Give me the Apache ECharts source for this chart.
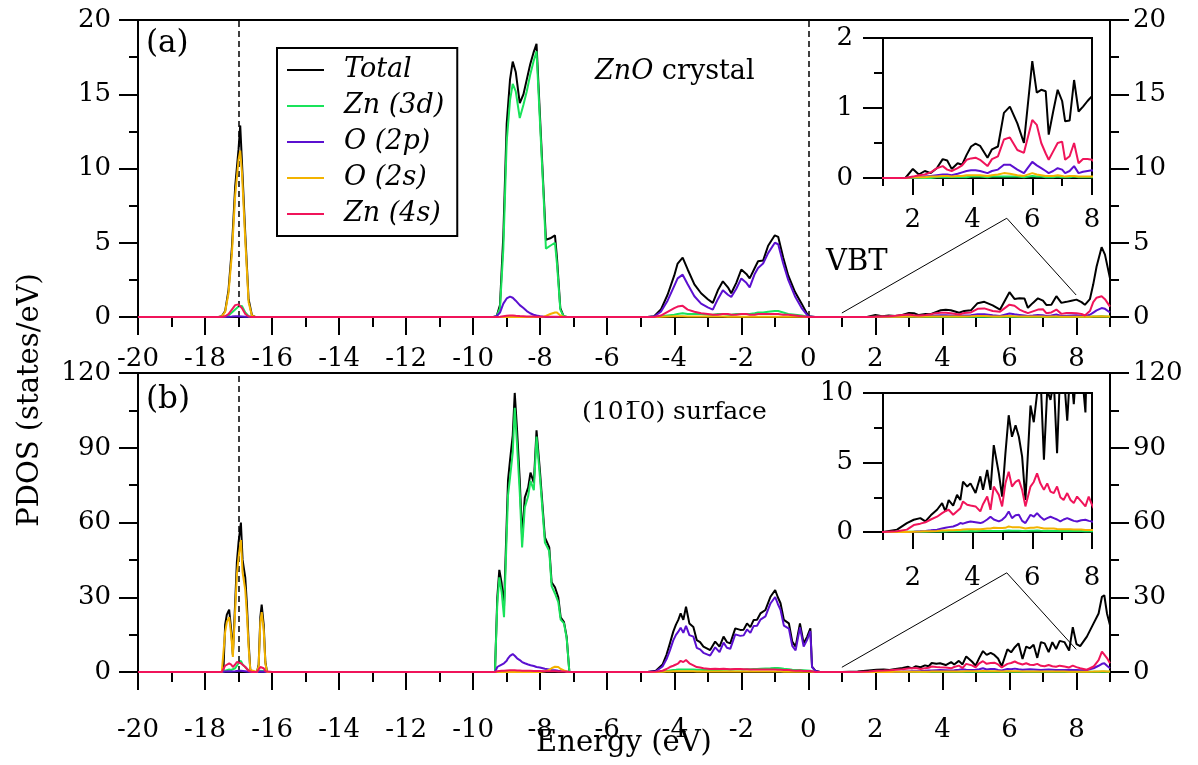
<!DOCTYPE html>
<html><head><meta charset="utf-8">
<script src="https://cdn.jsdelivr.net/npm/echarts@6/dist/echarts.min.js"></script>
<style>html,body{margin:0;padding:0;background:#fff}#main{width:1198px;height:765px}</style>
</head><body><div id="main"></div>
<script>
// ---------- ticks ----------
const xMajorTicks = [-20,-18,-16,-14,-12,-10,-8,-6,-4,-2,0,2,4,6,8];
const xMinorTicks = [-19,-17,-15,-13,-11,-9,-7,-5,-3,-1,1,3,5,7,9];
const insetMajorTicks = [2,4,6,8];
const insetMinorTicks = [1,3,5,7];
const seriesNames = ['Total','Zn (3d)','O (2p)','O (2s)','Zn (4s)'];
const dashA = [-17, 0];
const dashB = [-17];
const zoomLineA = [[1.0,0.27],[5.92,6.65],[7.99,1.48]];
const zoomLineB = [[1.0,1.9],[5.92,39.8],[7.99,9.1]];

// ---------- panel (a): ZnO crystal ----------
const eA1 = [-17.6,-17.5,-17.4,-17.3,-17.2,-17.1,-17.0,-16.95,-16.9,-16.8,-16.7,-16.6,-16.5];
const totA1 = [0,0.05,0.4,1.8,4.6,8.8,11.3,12.9,10.5,5.6,1.2,0.1,0];
const zndA1 = [0,0,0.02,0.1,0.3,0.5,0.7,0.8,0.75,0.3,0.05,0,0];
const opA1  = [0,0,0.01,0.02,0.03,0.05,0.05,0.05,0.04,0.02,0.01,0,0];
const osA1  = [0,0.04,0.35,1.6,4.2,8.2,10.6,11.2,9.8,5.2,1.0,0.08,0];
const znsA1 = [0,0,0.05,0.2,0.5,0.8,0.85,0.75,0.6,0.2,0.03,0,0];

const eA2 = [-9.4,-9.3,-9.2,-9.1,-9.0,-8.9,-8.82,-8.73,-8.61,-8.5,-8.4,-8.3,-8.2,-8.11,-8.0,-7.9,-7.83,-7.7,-7.56,-7.5,-7.4,-7.3,-7.2,-7.1];
const totA2 = [0,0.05,0.8,5.5,13.0,16.0,17.2,16.5,14.4,15.0,16.0,17.0,17.8,18.4,13.2,8.5,5.2,5.3,5.5,4.0,0.6,0.05,0,0];
const zndA2 = [0,0.04,0.6,4.6,11.8,14.6,15.7,15.2,13.4,14.3,15.2,16.3,17.2,17.9,12.8,8.2,4.6,4.8,5.0,3.6,0.5,0.04,0,0];
const opA2  = [0,0.05,0.3,0.9,1.25,1.37,1.3,1.1,0.8,0.6,0.4,0.25,0.15,0.1,0.05,0.02,0,0,0,0,0,0,0,0];
const osA2  = [0,0,0,0,0,0,0,0,0,0,0,0,0,0,0,0.02,0.08,0.2,0.3,0.3,0.1,0.01,0,0];
const znsA2 = [0,0,0.02,0.05,0.08,0.1,0.1,0.08,0.06,0.05,0.04,0.03,0.03,0.02,0.02,0.01,0.01,0.01,0.01,0.01,0,0,0,0];

const eA3 = [-4.8,-4.6,-4.4,-4.2,-4.0,-3.9,-3.75,-3.6,-3.4,-3.2,-3.0,-2.85,-2.7,-2.55,-2.4,-2.3,-2.15,-2.0,-1.85,-1.75,-1.6,-1.5,-1.35,-1.2,-1.0,-0.9,-0.75,-0.6,-0.4,-0.2,0.0,0.2];
const totA3 = [0,0.05,0.5,1.5,2.8,3.6,4.0,3.2,2.2,1.6,1.2,0.95,1.8,2.4,2.0,1.6,2.3,3.2,2.9,2.6,3.3,3.75,3.8,4.8,5.5,5.4,4.0,2.8,1.7,0.9,0.05,0];
const zndA3 = [0,0,0.05,0.1,0.15,0.2,0.25,0.2,0.2,0.2,0.15,0.15,0.2,0.2,0.15,0.15,0.2,0.2,0.2,0.2,0.25,0.3,0.3,0.35,0.4,0.4,0.3,0.2,0.15,0.1,0.02,0];
const opA3  = [0,0.03,0.35,1.1,2.1,2.6,2.85,2.2,1.4,0.9,0.65,0.5,1.2,1.8,1.5,1.35,1.9,2.6,2.3,2.0,2.9,3.3,3.6,4.3,5.0,4.9,3.6,2.5,1.4,0.6,0.03,0];
const osA3  = [0,0,0.02,0.04,0.05,0.05,0.05,0.04,0.04,0.03,0.03,0.03,0.03,0.03,0.02,0.02,0.02,0.02,0.02,0.02,0.02,0.02,0.02,0.02,0.02,0.02,0.02,0.01,0.01,0.01,0,0];
const znsA3 = [0,0,0.1,0.35,0.6,0.7,0.75,0.5,0.35,0.25,0.2,0.15,0.15,0.2,0.2,0.15,0.15,0.2,0.2,0.15,0.15,0.2,0.2,0.2,0.2,0.2,0.15,0.15,0.1,0.05,0,0];

const eA4 = [0.3,1.0,1.75,2.0,2.2,2.4,2.6,2.8,3.0,3.15,3.3,3.5,3.65,3.8,3.95,4.1,4.25,4.5,4.65,4.85,5.05,5.25,5.5,5.72,6.0,6.15,6.3,6.45,6.55,6.7,6.85,7.0,7.1,7.25,7.4,7.55,7.7,7.85,8.0,8.15,8.25,8.4,8.5,8.6,8.75,8.85,9.0];
const totA4 = [0,0,0,0.13,0.05,0.1,0.07,0.14,0.27,0.25,0.13,0.21,0.19,0.33,0.45,0.49,0.46,0.29,0.41,0.45,0.93,1.02,0.78,0.5,1.67,1.22,1.26,1.24,0.62,0.95,1.26,1.1,0.81,0.82,1.4,0.95,1.02,1.1,1.17,1.0,0.82,1.2,2.2,3.4,4.7,4.2,2.6];
const zndA4 = [0,0,0,0,0,0,0,0.01,0.01,0.01,0.01,0.01,0.01,0.01,0.02,0.02,0.02,0.01,0.02,0.02,0.02,0.02,0.02,0.01,0.03,0.02,0.02,0.01,0.01,0.01,0.02,0.01,0.01,0.01,0.02,0.01,0.01,0.01,0.01,0.01,0.01,0.02,0.03,0.04,0.05,0.04,0.02];
const opA4  = [0,0,0,0.01,0.01,0.02,0.03,0.04,0.05,0.05,0.04,0.06,0.08,0.1,0.11,0.11,0.1,0.07,0.1,0.12,0.19,0.19,0.12,0.07,0.23,0.18,0.14,0.1,0.07,0.1,0.14,0.12,0.07,0.1,0.17,0.07,0.09,0.1,0.11,0.08,0.05,0.15,0.3,0.45,0.6,0.55,0.3];
const osA4  = [0,0,0,0.01,0.01,0.01,0.02,0.02,0.03,0.03,0.02,0.03,0.03,0.04,0.04,0.04,0.04,0.03,0.04,0.05,0.07,0.06,0.04,0.03,0.07,0.05,0.04,0.03,0.03,0.03,0.04,0.03,0.02,0.03,0.03,0.02,0.02,0.02,0.02,0.02,0.01,0.02,0.03,0.04,0.05,0.04,0.03];
const znsA4 = [0,0,0,0.02,0.04,0.05,0.08,0.14,0.17,0.12,0.1,0.14,0.18,0.26,0.28,0.29,0.26,0.17,0.27,0.31,0.55,0.58,0.4,0.36,0.83,0.76,0.5,0.35,0.26,0.38,0.5,0.52,0.26,0.31,0.5,0.21,0.27,0.27,0.26,0.2,0.1,0.4,1.0,1.3,1.4,1.2,0.7];

// ---------- panel (b): (10-10) surface ----------
const eB1 = [-17.6,-17.5,-17.45,-17.4,-17.35,-17.28,-17.22,-17.17,-17.1,-17.05,-17.0,-16.93,-16.88,-16.8,-16.75,-16.7,-16.65,-16.6,-16.45,-16.4,-16.35,-16.31,-16.25,-16.2,-16.15,-16.0];
const totB1 = [0,0,1,19,23,25,17,7,28,44,52,60,45,38,27,12,1,0,0,3,22,27,19,4,0,0];
const zndB1 = [0,0,0.1,0.5,0.8,1.0,0.8,0.6,1.5,2.5,3.5,4.5,3,2,1.5,0.5,0,0,0,0.2,0.5,0.6,0.4,0.1,0,0];
const opB1  = [0,0,0.05,0.2,0.3,0.3,0.2,0.1,0.3,0.4,0.5,0.5,0.4,0.3,0.2,0.1,0,0,0,0.05,0.2,0.2,0.15,0.03,0,0];
const osB1  = [0,0,0.8,16,20,22,15,6,25,39,46,53,40,33,23,10,0.8,0,0,2.5,20,24,17,3.5,0,0];
const znsB1 = [0,0,0.5,2.5,3,3.5,3,2,3,4,4.5,3.5,3,2,1.5,0.5,0,0,0,0.5,2,2.5,1.5,0.3,0,0];

const eB2 = [-9.5,-9.35,-9.28,-9.22,-9.15,-9.08,-9.0,-8.96,-8.9,-8.82,-8.76,-8.69,-8.61,-8.54,-8.46,-8.36,-8.29,-8.19,-8.11,-8.01,-7.96,-7.86,-7.73,-7.66,-7.56,-7.46,-7.39,-7.29,-7.21,-7.13,-7.0];
const totB2 = [0,0,30,41,35.6,26,60,77,85,95,112,97,77,54,70,74,80,76,97,81,72,54,50,36,34,30,22,20,14,0,0];
const zndB2 = [0,0,27.5,38,32,22,55,71,78,88,106,91,72,50,66,70.5,76.7,73,94.5,78.5,70,52,48.5,34.5,31.5,28,21,19.5,13.5,0,0];
const opB2  = [0,0,2,2.5,3,3.5,4.5,5.5,6.5,7.2,6.5,5.5,4.8,4.0,3.5,3.0,2.7,2.4,2.0,1.8,1.6,1.3,1.0,0.8,0.7,0.5,0.4,0.3,0.2,0,0];
const osB2  = [0,0,0,0,0,0,0,0,0,0,0,0,0,0,0,0,0,0,0,0,0.1,0.3,0.8,1.5,2.1,2.0,1.2,0.6,0.2,0,0];
const znsB2 = [0,0,0.3,0.4,0.5,0.5,0.6,0.6,0.7,0.7,0.7,0.6,0.6,0.5,0.5,0.5,0.5,0.4,0.4,0.4,0.3,0.3,0.3,0.3,0.3,0.2,0.2,0.2,0.1,0,0];

const eB3 = [-4.8,-4.55,-4.35,-4.23,-4.13,-4.03,-3.95,-3.88,-3.81,-3.73,-3.65,-3.55,-3.43,-3.33,-3.23,-3.13,-2.93,-2.78,-2.65,-2.53,-2.43,-2.33,-2.18,-2.03,-1.93,-1.83,-1.73,-1.63,-1.53,-1.43,-1.28,-1.13,-0.99,-0.91,-0.83,-0.73,-0.58,-0.48,-0.38,-0.25,-0.14,-0.04,0.06,0.11,0.21,0.35];
const totB3 = [0,0.5,3,7,11.5,16.2,19,20.9,23.5,20.9,26.2,19.5,18.1,12.8,12,10.2,8.8,12.2,10.2,14.2,12,11.5,17.5,16.9,17,19.5,18,20.9,21,23.5,24.9,30.2,32.9,30,27.6,20.9,19.5,12.2,10.2,19.5,11.5,14,17.5,2.2,0.5,0];
const zndB3 = [0,0.05,0.2,0.4,0.6,0.8,0.9,1,1,1,1,1,1,0.9,0.9,0.8,0.8,0.8,0.8,0.9,0.9,0.9,1,1,1,1.1,1.1,1.2,1.2,1.3,1.4,1.5,1.6,1.6,1.5,1.3,1.1,0.9,0.8,0.8,0.7,0.6,0.5,0.1,0,0];
const opB3  = [0,0.3,2.2,5.2,8.7,12.7,14.9,16.2,17.8,15.7,18.5,14.8,14.2,9.7,9.1,7.7,6.6,9.9,8.0,11.8,9.7,9.3,15.1,14.5,14.7,17.1,15.7,18.5,18.6,21.0,22.3,27.5,30.1,27.3,25.0,18.6,17.4,10.5,8.7,17.9,10.2,12.8,16.4,2.0,0.4,0];
const osB3  = [0,0.02,0.1,0.2,0.25,0.3,0.3,0.3,0.35,0.3,0.35,0.3,0.3,0.25,0.25,0.2,0.2,0.2,0.2,0.2,0.2,0.2,0.2,0.2,0.2,0.2,0.2,0.2,0.2,0.2,0.2,0.2,0.2,0.2,0.2,0.15,0.15,0.1,0.1,0.1,0.1,0.1,0.1,0.02,0,0];
const znsB3 = [0,0.1,0.5,1.2,2,2.5,3,3.5,4.5,4,4.8,3.5,2.7,2,1.8,1.5,1.2,1.3,1.2,1.3,1.2,1.1,1.2,1.2,1.1,1.1,1,1,1,1,1,1,1,0.9,0.9,0.8,0.8,0.6,0.5,0.6,0.4,0.4,0.4,0.1,0,0];

const eB4 = [0.3,1.0,1.47,1.8,2.03,2.25,2.42,2.6,2.81,2.98,3.09,3.2,3.35,3.48,3.59,3.68,3.82,3.93,4.1,4.26,4.35,4.49,4.6,4.71,4.88,4.99,5.1,5.21,5.32,5.44,5.55,5.66,5.77,5.94,6.05,6.16,6.27,6.39,6.5,6.61,6.72,6.83,6.94,7.05,7.17,7.28,7.39,7.5,7.64,7.78,7.89,8.0,8.11,8.31,8.51,8.66,8.76,8.83,8.91,9.0];
const totB4 = [0,0,0.17,0.64,0.88,1.0,0.76,1.2,1.6,2.08,1.48,2.3,1.9,2.67,2.3,3.63,3.27,3.5,2.8,4.0,3.03,4.46,3.03,6.25,4.22,2.55,5.66,8.4,6.85,7.68,6.85,5.42,2.3,9.1,7.9,9.95,11.5,5.2,10.2,9.5,10.9,5.66,12,11.5,8.0,12,9.2,12.5,12,8.6,18,11.2,10.4,14.2,19.5,23.5,30.2,30.8,23.5,18.8];
const zndB4 = [0,0,0,0.01,0.01,0.02,0.02,0.03,0.03,0.04,0.04,0.05,0.05,0.05,0.06,0.06,0.06,0.07,0.06,0.07,0.07,0.08,0.07,0.08,0.08,0.07,0.09,0.1,0.09,0.09,0.09,0.08,0.07,0.09,0.09,0.1,0.09,0.08,0.09,0.08,0.08,0.08,0.07,0.07,0.08,0.07,0.07,0.07,0.07,0.06,0.06,0.06,0.06,0.06,0.08,0.1,0.12,0.12,0.1,0.08];
const opB4  = [0,0,0,0,0.02,0.05,0.08,0.12,0.17,0.25,0.3,0.35,0.4,0.5,0.64,0.6,0.7,0.76,0.7,0.64,0.7,0.9,1.1,0.9,0.76,0.88,1.1,1.48,1.0,1.2,1.24,0.8,0.64,1.24,1.1,1.36,1.1,0.88,1.0,1.1,1.0,0.9,0.76,0.9,1.0,0.9,0.8,0.76,0.85,0.88,0.8,0.76,0.7,0.8,1.5,2.5,3.3,3.5,2.5,1.5];
const osB4  = [0,0,0,0,0.02,0.03,0.05,0.06,0.08,0.1,0.1,0.12,0.12,0.15,0.15,0.18,0.2,0.2,0.2,0.2,0.22,0.25,0.25,0.3,0.28,0.28,0.3,0.4,0.35,0.35,0.35,0.3,0.25,0.3,0.3,0.35,0.3,0.25,0.25,0.25,0.25,0.22,0.2,0.2,0.2,0.2,0.18,0.18,0.18,0.15,0.15,0.15,0.15,0.15,0.2,0.25,0.3,0.3,0.25,0.2];
const znsB4 = [0,0,0.05,0.17,0.5,0.6,0.7,0.9,1.1,1.36,1.5,1.6,1.24,1.5,1.7,2.2,1.96,1.9,1.84,1.48,2.0,2.55,1.6,3.27,2.67,1.84,3.5,4.34,3.27,3.6,3.75,3.03,1.84,3.27,3.6,4.22,3.5,3.03,3.5,2.9,2.8,3.27,2.5,2.3,2.8,2.3,2.08,2.55,2.2,1.84,2.55,1.96,1.5,0.9,2.2,4.8,8.2,7.0,5.6,3.5];

// ---------- assemble ----------
function zip(es, vs) { return es.map((e, i) => [e, vs[i]]); }
function build(segs) {
  let out = [[-20, 0]];
  segs.forEach(s => { out = out.concat(zip(s[0], s[1])); });
  return out;
}
const panelA = [
  build([[eA1,totA1],[eA2,totA2],[eA3,totA3],[eA4,totA4]]),
  build([[eA1,zndA1],[eA2,zndA2],[eA3,zndA3],[eA4,zndA4]]),
  build([[eA1,opA1],[eA2,opA2],[eA3,opA3],[eA4,opA4]]),
  build([[eA1,osA1],[eA2,osA2],[eA3,osA3],[eA4,osA4]]),
  build([[eA1,znsA1],[eA2,znsA2],[eA3,znsA3],[eA4,znsA4]])
];
const panelB = [
  build([[eB1,totB1],[eB2,totB2],[eB3,totB3],[eB4,totB4]]),
  build([[eB1,zndB1],[eB2,zndB2],[eB3,zndB3],[eB4,zndB4]]),
  build([[eB1,opB1],[eB2,opB2],[eB3,opB3],[eB4,opB4]]),
  build([[eB1,osB1],[eB2,osB2],[eB3,osB3],[eB4,osB4]]),
  build([[eB1,znsB1],[eB2,znsB2],[eB3,znsB3],[eB4,znsB4]])
];

const FONT = 'DejaVu Serif';
const COLORS = ['#000000', '#19e35a', '#5b10d0', '#f3b300', '#f0145a'];
const TICKFS = 26;
const K = '#000';
const LABEL_ROW_A = 359;   // vertical position of panel (a) energy tick labels

function xMain(grid, labelExtra) {
  return {
    type: 'value', gridIndex: grid, position: 'bottom', min: -20, max: 9, interval: 2,
    axisLine: { show: true, onZero: false, lineStyle: { color: K, width: 2 } },
    axisTick: { show: false }, minorTick: { show: false },
    axisLabel: Object.assign({ show: true, margin: 28, showMaxLabel: false, color: K, fontSize: TICKFS, fontFamily: FONT }, labelExtra),
    splitLine: { show: false }
  };
}
function xTicks(grid, min, max, vals, len) {
  return {
    type: 'value', gridIndex: grid, position: 'bottom', min: min, max: max,
    axisLine: { show: false, onZero: false },
    axisTick: { show: true, inside: false, length: len, customValues: vals, lineStyle: { color: K, width: 2 } },
    axisLabel: { show: false }, splitLine: { show: false }
  };
}
function xInset(grid, labelExtra) {
  return {
    type: 'value', gridIndex: grid, position: 'bottom', min: 1, max: 8, interval: 1,
    axisLine: { show: true, onZero: false, lineStyle: { color: K, width: 2 } },
    axisTick: { show: false }, minorTick: { show: false },
    axisLabel: Object.assign({ show: true, margin: 25, color: K, fontSize: TICKFS, fontFamily: FONT,
      formatter: v => (insetMajorTicks.indexOf(v) >= 0 ? String(v) : '') }, labelExtra),
    splitLine: { show: false }
  };
}
function yAx(grid, pos, max, interval, margin, majLen, minLen) {
  return {
    type: 'value', gridIndex: grid, position: pos, min: 0, max: max, interval: interval,
    axisLine: { show: true, onZero: false, lineStyle: { color: K, width: 2 } },
    axisTick: { show: true, inside: false, length: majLen, lineStyle: { color: K, width: 2 } },
    minorTick: { show: true, splitNumber: 2, length: minLen, lineStyle: { color: K, width: 2 } },
    axisLabel: { show: true, margin: margin, color: K, fontSize: TICKFS, fontFamily: FONT },
    splitLine: { show: false }, minorSplitLine: { show: false }
  };
}

const series = [];
function addPanel(data, xi, yi) {
  data.forEach((d, i) => {
    series.push({
      name: seriesNames[i], type: 'line', xAxisIndex: xi, yAxisIndex: yi,
      data: d, symbol: 'none', showSymbol: false, clip: true, color: COLORS[i],
      lineStyle: { color: COLORS[i], width: 2 }, z: 3 + i, silent: true, animation: false
    });
  });
}
addPanel(panelA, 0, 0);
addPanel(panelA, 6, 4);
addPanel(panelB, 3, 2);
addPanel(panelB, 9, 5);

const dashStyle = { color: K, type: [6, 4], width: 1.5 };
series[0].markLine = { silent: true, symbol: ['none','none'], label: { show: false }, lineStyle: dashStyle, animation: false, data: dashA.map(v => ({ xAxis: v })) };
series[10].markLine = { silent: true, symbol: ['none','none'], label: { show: false }, lineStyle: dashStyle, animation: false, data: dashB.map(v => ({ xAxis: v })) };
series.push({ type: 'line', xAxisIndex: 0, yAxisIndex: 0, data: zoomLineA, symbol: 'none', lineStyle: { color: K, width: 1 }, silent: true, z: 2 });
series.push({ type: 'line', xAxisIndex: 3, yAxisIndex: 2, data: zoomLineB, symbol: 'none', lineStyle: { color: K, width: 1 }, silent: true, z: 2 });

const baseGraphic = [
  { type: 'text', x: 30, y: 400, rotation: Math.PI / 2, style: { text: 'PDOS (states/eV)', fontSize: 29, fontFamily: FONT, fill: K, align: 'center', verticalAlign: 'middle' } },
  { type: 'text', x: 624, y: 743, style: { text: 'Energy (eV)', fontSize: 29, fontFamily: FONT, fill: K, align: 'center', verticalAlign: 'middle' } },
  { type: 'text', x: 146, y: 44, style: { text: '(a)', fontSize: 31, fontFamily: FONT, fill: K, align: 'left', verticalAlign: 'middle' } },
  { type: 'text', x: 146, y: 400, style: { text: '(b)', fontSize: 31, fontFamily: FONT, fill: K, align: 'left', verticalAlign: 'middle' } },
  { type: 'text', x: 595, y: 72, style: { text: '{i|ZnO} crystal', fontSize: 27, fontFamily: FONT, fill: K, align: 'left', verticalAlign: 'middle', rich: { i: { fontStyle: 'italic', fontSize: 27, fontFamily: FONT, fill: K } } } },
  { type: 'text', x: 582, y: 412, style: { text: '(10\u0031\u03050) surface', fontSize: 25, fontFamily: FONT, fill: K, align: 'left', verticalAlign: 'middle' } },
  { type: 'text', x: 826, y: 262, style: { text: 'VBT', fontSize: 29, fontFamily: FONT, fill: K, align: 'left', verticalAlign: 'middle' } }
];

const gridBase = { show: true, borderColor: K, borderWidth: 2, containLabel: false, backgroundColor: 'transparent' };
const option = {
  backgroundColor: '#fff',
  animation: false,
  textStyle: { fontFamily: FONT, color: K },
  grid: [
    Object.assign({ left: 138, top: 20, width: 972, height: 297 }, gridBase),
    Object.assign({ left: 138, top: 373, width: 972, height: 299 }, gridBase),
    Object.assign({ left: 883, top: 38, width: 209, height: 140 }, gridBase),
    Object.assign({ left: 883, top: 393, width: 209, height: 139 }, gridBase)
  ],
  xAxis: [
    xMain(0, { show: false }), xTicks(0, -20, 9, xMajorTicks, 18), xTicks(0, -20, 9, xMinorTicks, 10),
    xMain(1, { padding: [17, 0, 0, 0] }), xTicks(1, -20, 9, xMajorTicks, 18), xTicks(1, -20, 9, xMinorTicks, 10),
    xInset(2, { padding: [4, 0, 0, 0] }), xTicks(2, 1, 8, insetMajorTicks, 17), xTicks(2, 1, 8, insetMinorTicks, 8),
    xInset(3, { padding: [8, 0, 0, 0] }), xTicks(3, 1, 8, insetMajorTicks, 17), xTicks(3, 1, 8, insetMinorTicks, 8)
  ],
  yAxis: [
    yAx(0, 'left', 20, 5, 27, 19, 9),
    yAx(0, 'right', 20, 5, 23, 19, 9),
    yAx(1, 'left', 120, 30, 27, 19, 9),
    yAx(1, 'right', 120, 30, 23, 19, 9),
    yAx(2, 'left', 2, 1, 30, 20, 9),
    yAx(3, 'left', 10, 5, 30, 20, 9)
  ],
  legend: {
    left: 277, top: 48, orient: 'vertical', selectedMode: false,
    data: seriesNames, icon: 'rect', itemWidth: 37, itemHeight: 2, itemGap: 6,
    padding: [7, 13, 7, 10], borderColor: K, borderWidth: 2, backgroundColor: '#fff',
    textStyle: { fontFamily: FONT, fontStyle: 'italic', fontSize: 27, color: K, lineHeight: 30, padding: [0, 0, 0, 15] }
  },
  graphic: baseGraphic,
  series: series
};
const chart = echarts.init(document.getElementById('main'), null, { renderer: 'canvas' });
chart.setOption(option);

// panel (a) energy tick labels, x positions taken from panel (a)'s energy axis
const labelsA = xMajorTicks.map(v => ({
  type: 'text',
  x: chart.convertToPixel({ xAxisIndex: 0 }, v),
  y: LABEL_ROW_A,
  style: { text: String(v), fontSize: TICKFS, fontFamily: FONT, fill: K, align: 'center', verticalAlign: 'middle' }
}));
chart.setOption({ graphic: baseGraphic.concat(labelsA) });
</script></body></html>
